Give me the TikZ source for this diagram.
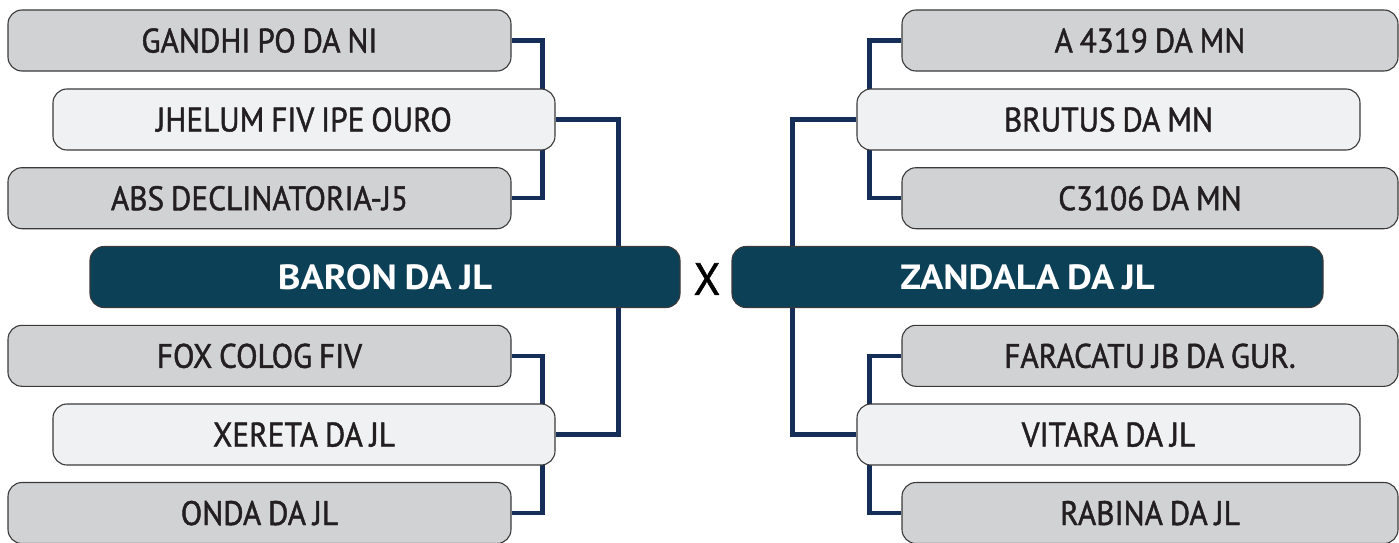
\documentclass[tikz,border=0pt]{standalone}
\usepackage{fontspec}
\setmainfont{PT Sans}
\newfontfamily\regfam{PT Sans}[FakeStretch=0.92, FakeBold=1.3, WordSpace=0.82]
\newfontfamily\boldfam{PT Sans}[FakeStretch=1.1, WordSpace=0.8]
\newfontfamily\vsfam{PT Sans}[FakeStretch=0.95, FakeBold=1.2]
\usetikzlibrary{backgrounds}
\definecolor{boxgray}{HTML}{D1D2D4}
\definecolor{boxlight}{HTML}{F0F1F3}
\definecolor{boxdark}{HTML}{0C4057}
\definecolor{linknavy}{HTML}{152E57}
\definecolor{edgegray}{HTML}{3A3A3A}
\definecolor{textdark}{HTML}{231F20}
\begin{document}
\begin{tikzpicture}[x=1pt,y=-1pt,
  box/.style={rounded corners=14pt, draw=edgegray, line width=1.1pt, inner sep=0pt,
    font=\regfam\fontsize{34}{40}\selectfont, text=textdark, text height=24pt, text depth=0pt,
    minimum height=61pt},
  graybox/.style={box, fill=boxgray, minimum width=503pt},
  lightbox/.style={box, fill=boxlight, minimum width=502pt},
  rgraybox/.style={box, fill=boxgray, minimum width=496pt},
  rlightbox/.style={box, fill=boxlight, minimum width=503pt},
  finalbox/.style={box, fill=boxdark, text=white, font=\boldfam\bfseries\fontsize{35}{40}\selectfont},
  link/.style={draw=linknavy, line width=4.4pt}
]
\useasboundingbox (0,0) rectangle (1399,543);
% left column
\node[graybox]  (g1) at (259.5,40.5)  {GANDHI PO DA NI};
\node[lightbox] (j1) at (304,119.5)   {JHELUM FIV IPE OURO};
\node[graybox]  (a1) at (259.5,198.2) {ABS DECLINATORIA-J5};
\node[finalbox, minimum width=590pt] (baron) at (385,277) {BARON DA JL};
\node[graybox]  (f1) at (259.5,355.8) {FOX COLOG FIV};
\node[lightbox] (x1) at (304,434.5)   {XERETA DA JL};
\node[graybox]  (o1) at (259.5,513)   {ONDA DA JL};
% right column
\node[rgraybox]  (a2) at (1150,40.5)   {A 4319 DA MN};
\node[rlightbox] (b2) at (1108.5,119.5) {BRUTUS DA MN};
\node[rgraybox]  (c2) at (1150,198.2)  {C3106 DA MN};
\node[finalbox, minimum width=591pt] (zand) at (1027.5,277) {ZANDALA DA JL};
\node[rgraybox]  (f2) at (1150,355.8)  {FARACATU JB DA GUR.};
\node[rlightbox] (v2) at (1108.5,434.5) {VITARA DA JL};
\node[rgraybox]  (r2) at (1150,513)    {RABINA DA JL};
% vs
\node[font=\vsfam\fontsize{45}{50}\selectfont, text=black, inner sep=0pt] (vs) at (707,279) {X};
\begin{scope}[on background layer]
  \draw[link] (g1.east) -- ++(31,0) |- (a1.east);
  \draw[link] (f1.east) -- ++(31,0) |- (o1.east);
  \draw[link] (j1.east) -- ++(63,0) |- (x1.east);
  \draw[link] (a2.west) -- ++(-32,0) |- (c2.west);
  \draw[link] (f2.west) -- ++(-32,0) |- (r2.west);
  \draw[link] (b2.west) -- ++(-64,0) |- (v2.west);
\end{scope}
\end{tikzpicture}
\end{document}
